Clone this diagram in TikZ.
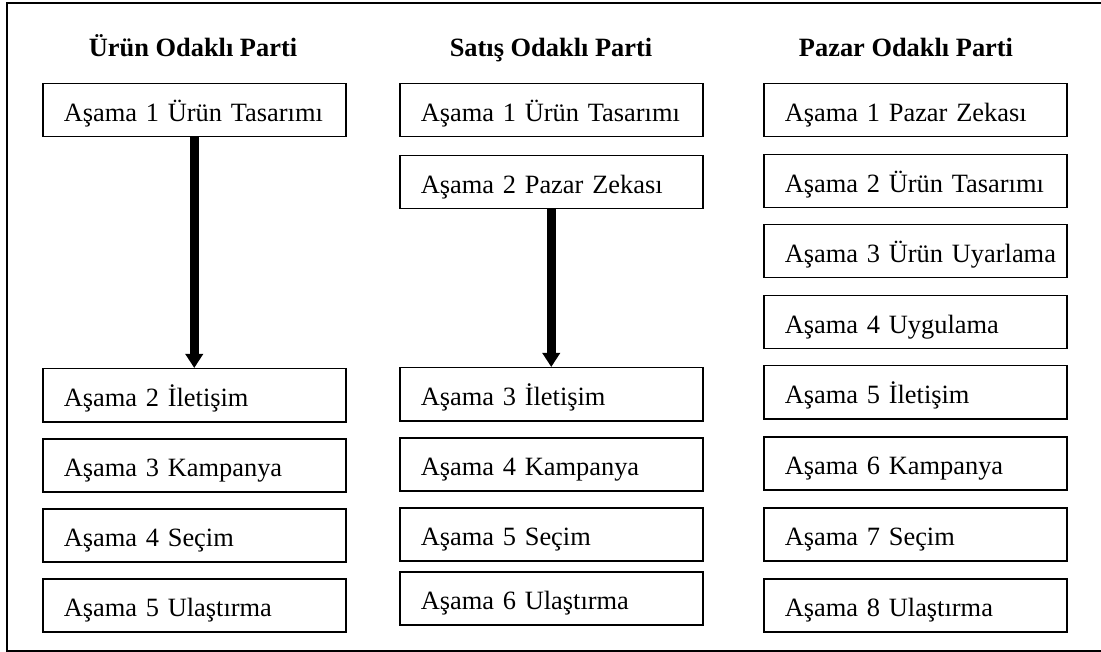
\documentclass[tikz,border=0pt]{standalone}
\usepackage{fontspec}
\setmainfont{Liberation Serif}
\usetikzlibrary{arrows.meta}
\begin{document}
\begin{tikzpicture}[x=1pt,y=-1pt,
  stage/.style={draw, line width=1.5pt, anchor=north west,
    minimum width=303pt, minimum height=53pt, inner xsep=0pt,
    text width=303pt, align=left, text height=22pt, text depth=0pt,
    execute at begin node=\hspace*{21pt},
    font=\fontsize{26.4}{30}\selectfont},
  head/.style={anchor=base, font=\fontsize{26.4}{30}\selectfont\bfseries},
  flow/.style={line width=9pt, -{Triangle[width=17pt,length=14pt]}}]
\useasboundingbox (0,0) rectangle (1101,652);
% outer frame (right side runs off the page)
\draw[line width=2pt] (1120,3) -- (7,3) -- (7,651) -- (1120,651);

% column headings
\node[head] (h1) at (193,57) {Ürün Odaklı Parti};
\node[head] (h2) at (551,57) {Satış Odaklı Parti};
\node[head] (h3) at (906,57) {Pazar Odaklı Parti};

% product-oriented party
\node[stage] (a1) at (42,83)  {Aşama 1 Ürün Tasarımı};
\node[stage] (a2) at (42,368) {Aşama 2 İletişim};
\node[stage] (a3) at (42,438) {Aşama 3 Kampanya};
\node[stage] (a4) at (42,508) {Aşama 4 Seçim};
\node[stage] (a5) at (42,578) {Aşama 5 Ulaştırma};
\draw[flow] (a1.south) -- (a2.north);

% sales-oriented party
\node[stage] (b1) at (399,83)  {Aşama 1 Ürün Tasarımı};
\node[stage] (b2) at (399,155) {Aşama 2 Pazar Zekası};
\node[stage] (b3) at (399,367) {Aşama 3 İletişim};
\node[stage] (b4) at (399,437) {Aşama 4 Kampanya};
\node[stage] (b5) at (399,507) {Aşama 5 Seçim};
\node[stage] (b6) at (399,571) {Aşama 6 Ulaştırma};
\draw[flow] (b2.south) -- (b3.north);

% market-oriented party
\node[stage] (c1) at (763,83)  {Aşama 1 Pazar Zekası};
\node[stage] (c2) at (763,154) {Aşama 2 Ürün Tasarımı};
\node[stage] (c3) at (763,224) {Aşama 3 Ürün Uyarlama};
\node[stage] (c4) at (763,295) {Aşama 4 Uygulama};
\node[stage] (c5) at (763,365) {Aşama 5 İletişim};
\node[stage] (c6) at (763,436) {Aşama 6 Kampanya};
\node[stage] (c7) at (763,507) {Aşama 7 Seçim};
\node[stage] (c8) at (763,578) {Aşama 8 Ulaştırma};
\end{tikzpicture}
\end{document}
